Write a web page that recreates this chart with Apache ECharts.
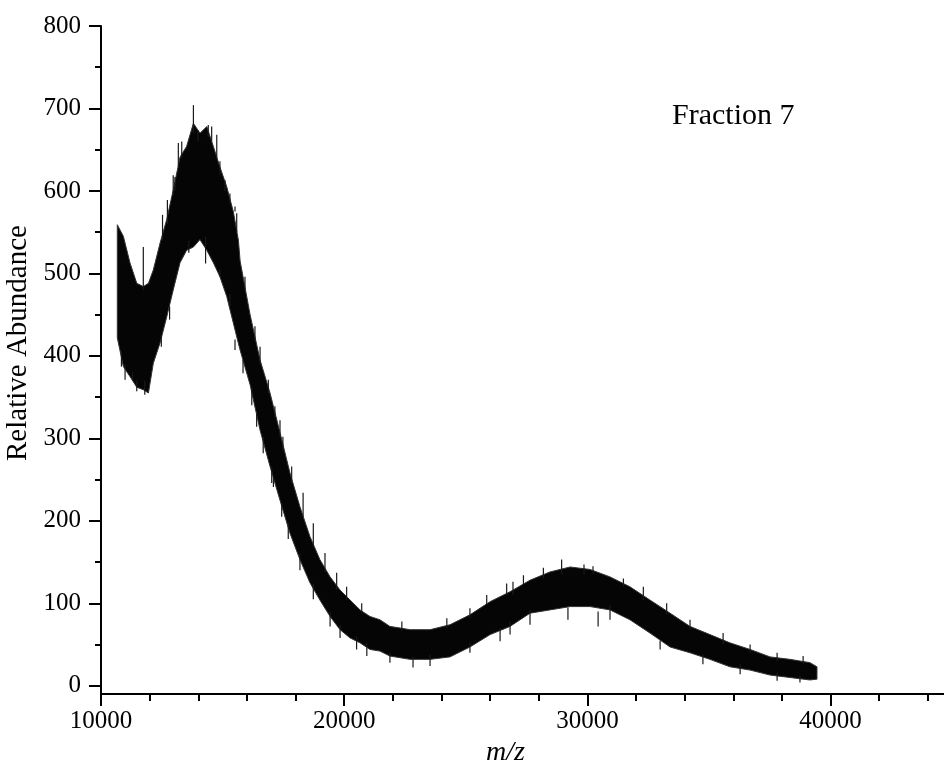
<!DOCTYPE html>
<html>
<head>
<meta charset="utf-8">
<title>Fraction 7</title>
<script src="https://cdn.jsdelivr.net/npm/echarts@6.0.0/dist/echarts.min.js"></script>
<style>
  html, body { margin: 0; padding: 0; background: #fff; }
  #main { width: 944px; height: 760px; }
</style>
</head>
<body>
<div id="main"></div>
<script>
// Spectrum envelope: m/z positions with the lower and upper edge of the noisy trace
const mz = [10670, 10920, 11190, 11470, 11740, 11950, 12150, 12430, 12700, 12970,
  13250, 13520, 13800, 14070, 14350, 14620, 14890, 15170, 15440, 15650,
  15720, 16130, 16540, 16950, 17360, 17770, 18180, 18590, 19000, 19420,
  19830, 20240, 20650, 21060, 21470, 21880, 22300, 22710, 23530, 24350,
  25170, 26000, 26820, 27640, 28460, 29290, 30110, 30930, 31750, 32570,
  33400, 34220, 35040, 35860, 36690, 37510, 38330, 39150, 39440];
const lower = [422, 387, 375, 362, 359, 355, 391, 416, 447, 480,
  513, 528, 532, 541, 528, 513, 496, 472, 440, 415,
  407, 365, 310, 266, 225, 185, 153, 125, 104, 84,
  68, 58, 52, 44, 42, 36, 34, 32, 32, 35,
  47, 62, 72, 88, 92, 96, 96, 92, 80, 64,
  47, 40, 32, 23, 19, 13, 10, 7, 8];
const upper = [559, 545, 513, 488, 484, 488, 504, 537, 565, 601,
  641, 654, 682, 670, 678, 654, 629, 605, 575, 540,
  515, 450, 395, 355, 307, 258, 217, 181, 153, 132,
  116, 104, 92, 84, 80, 72, 70, 68, 68, 74,
  86, 102, 114, 128, 138, 144, 141, 132, 120, 104,
  88, 72, 62, 52, 44, 35, 32, 28, 23];

// Noise spikes: m/z, where the spike leaves the trace, and its tip
const spikeMz = [
  11740, 12970, 13320, 13800, 14410, 14760, 15580, 17480, 18310, 26940,
  28940, 29860, 30230, 10990, 11470, 15510, 15840, 16400, 17090, 17430,
  22830, 26410, 29200, 30440, 32990, 38740,
  12530, 12730, 13040, 13180, 13990, 14550, 14890, 15100, 15300, 15510,
  10840, 11300, 11800, 12480, 12820, 13610, 14300, 14890, 15300,
  15920, 16330, 16540, 16880, 17150, 17360, 17840, 18730, 19210, 19690, 20100, 20720,
  16200, 16670, 17020, 17700, 18180, 18730, 19420, 19830, 20510, 20930,
  22370, 24220, 25170, 25860, 26680, 27370, 28190,
  21880, 23530, 25170, 26820, 27640,
  31480, 32300, 33260, 34220, 35580, 36690, 37800, 38870,
  30930, 34750, 36280, 37800];
const spikeFrom = [
  480, 595, 640, 670, 665, 640, 550, 285, 205, 110,
  135, 135, 135, 390, 370, 420, 395, 330, 255, 222,
  35, 70, 95, 90, 55, 12,
  540, 560, 600, 630, 660, 660, 620, 600, 585, 575,
  405, 380, 370, 425, 460, 540, 545, 505, 475,
  480, 418, 390, 355, 325, 302, 246, 168, 138, 117, 104, 88,
  362, 302, 265, 198, 160, 124, 90, 74, 60, 52,
  66, 70, 82, 98, 110, 122, 130,
  40, 38, 52, 78, 92,
  120, 104, 86, 68, 50, 40, 30, 26,
  98, 38, 26, 16];
const spikeTo = [
  532, 619, 660, 704, 680, 668, 573, 302, 234, 126,
  153, 147, 145, 371, 357, 407, 379, 314, 241, 205,
  22, 54, 80, 72, 44, 4,
  571, 589, 617, 658, 674, 678, 636, 613, 597, 581,
  387, 371, 353, 411, 444, 525, 512, 496, 460,
  496, 436, 411, 371, 339, 322, 266, 197, 161, 137, 120, 100,
  340, 282, 246, 178, 140, 105, 72, 58, 44, 36,
  78, 82, 94, 110, 124, 134, 143,
  28, 24, 40, 62, 74,
  130, 120, 100, 80, 64, 50, 40, 36,
  80, 26, 14, 6];

// Axis ticks
const yTicks = [0, 100, 200, 300, 400, 500, 600, 700, 800];
const yMinorTicks = [50, 150, 250, 350, 450, 550, 650, 750];

const FONT = 'Liberation Serif';
const INK = '#000';

const chart = echarts.init(document.getElementById('main'), null, { renderer: 'canvas' });

const option = {
  animation: false,
  backgroundColor: '#fff',
  grid: { left: 101, top: 26, width: 972.8, height: 668, outerBoundsMode: 'none', containLabel: false },
  xAxis: {
    type: 'value',
    min: 10000,
    max: 50000,
    interval: 10000,
    name: 'm/z',
    nameLocation: 'middle',
    nameGap: 36,
    nameTextStyle: {
      fontFamily: FONT, fontStyle: 'italic', fontSize: 28, color: INK,
      padding: [0, 164, 0, 0]
    },
    axisLine: { onZero: false, lineStyle: { color: INK, width: 2 } },
    axisTick: { length: 12, lineStyle: { color: INK, width: 2 } },
    minorTick: { show: true, splitNumber: 5, length: 7, lineStyle: { color: INK, width: 2 } },
    axisLabel: { fontFamily: FONT, fontSize: 25, color: INK, margin: 15, formatter: v => String(v) },
    splitLine: { show: false },
    minorSplitLine: { show: false }
  },
  yAxis: [{
    type: 'value',
    min: -10,
    max: 800,
    name: 'Relative Abundance',
    nameLocation: 'middle',
    nameRotate: 90,
    nameGap: 53,
    nameTextStyle: { fontFamily: FONT, fontSize: 29, color: INK, padding: [0, 0, 0, 34] },
    axisLine: { show: true, onZero: false, lineStyle: { color: INK, width: 2 } },
    axisTick: { show: true, length: 12, customValues: yTicks, lineStyle: { color: INK, width: 2 } },
    axisLabel: { fontFamily: FONT, fontSize: 25, color: INK, margin: 20, customValues: yTicks, formatter: v => String(v) },
    splitLine: { show: false }
  }, {
    type: 'value',
    min: -10,
    max: 800,
    position: 'left',
    axisLine: { show: false, onZero: false },
    axisTick: { show: true, length: 6, customValues: yMinorTicks, lineStyle: { color: INK, width: 2 } },
    axisLabel: { show: false },
    splitLine: { show: false }
  }],
  series: [{
    // noisy trace drawn as a filled band between its lower and upper edge
    type: 'custom',
    xAxisIndex: 0,
    yAxisIndex: 0,
    data: [0],
    renderItem: function (params, api) {
      const pts = [];
      for (let i = 0; i < mz.length; i++) pts.push(api.coord([mz[i], upper[i]]));
      for (let i = mz.length - 1; i >= 0; i--) pts.push(api.coord([mz[i], lower[i]]));
      return {
        type: 'polygon',
        shape: { points: pts },
        style: { fill: '#050505', stroke: '#333', lineWidth: 1 }
      };
    },
    silent: true
  }, {
    // individual spikes reaching out of the trace
    type: 'custom',
    xAxisIndex: 0,
    yAxisIndex: 0,
    data: spikeMz.map((m, i) => [m, spikeFrom[i], spikeTo[i]]),
    renderItem: function (params, api) {
      const a = api.coord([api.value(0), api.value(1)]);
      const b = api.coord([api.value(0), api.value(2)]);
      return {
        type: 'line',
        shape: { x1: a[0], y1: a[1], x2: b[0], y2: b[1] },
        style: { stroke: '#1a1a1a', lineWidth: 1.2 }
      };
    },
    silent: true
  }],
  graphic: [{
    type: 'text',
    left: 672,
    top: 101,
    style: { text: 'Fraction 7', fontFamily: FONT, fontSize: 30, fill: INK }
  }]
};

chart.setOption(option);
</script>
</body>
</html>
